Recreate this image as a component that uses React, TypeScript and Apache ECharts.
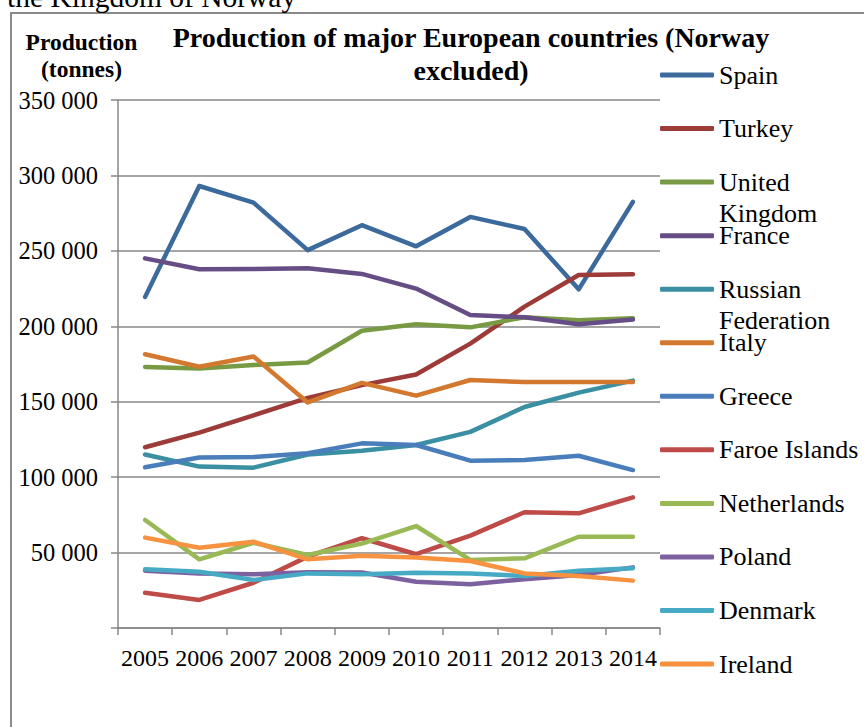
import React, { useEffect, useRef } from "react";
import * as echarts from "echarts";

const years = ["2005", "2006", "2007", "2008", "2009", "2010", "2011", "2012", "2013", "2014"];

const seriesNames = [
  "Spain",
  "Turkey",
  "United Kingdom",
  "France",
  "Russian Federation",
  "Italy",
  "Greece",
  "Faroe Islands",
  "Netherlands",
  "Poland",
  "Denmark",
  "Ireland",
];

const spain = [219500, 293000, 282000, 250500, 267000, 253000, 272500, 264500, 224500, 282500];
const turkey = [119800, 129500, 141000, 152500, 161000, 168000, 188500, 213000, 234000, 234500];
const unitedKingdom = [173000, 172000, 174300, 176000, 197000, 201300, 199300, 206000, 204000, 205300];
const france = [245000, 237800, 238000, 238400, 234700, 225000, 207500, 206000, 201300, 204500];
const russianFederation = [115000, 107000, 106300, 115000, 117500, 121300, 130000, 146500, 156000, 164000];
const italy = [181500, 173200, 180000, 149500, 162500, 154000, 164400, 163000, 163000, 163000];
const greece = [106500, 113000, 113300, 115800, 122400, 121300, 110900, 111400, 114200, 104700];
const faroeIslands = [23400, 18600, 30000, 47300, 59500, 48900, 61200, 76700, 76000, 86600];
const netherlands = [71600, 45500, 56500, 48400, 56000, 67600, 45100, 46200, 60500, 60500];
const poland = [38000, 36200, 35600, 37000, 36800, 30700, 29000, 32300, 35100, 40200];
const denmark = [38900, 37300, 31800, 36200, 35600, 36700, 36200, 34500, 38000, 39600];
const ireland = [59900, 53200, 57200, 45500, 47900, 46800, 44400, 36200, 34500, 31400];

const seriesValues = [
  spain,
  turkey,
  unitedKingdom,
  france,
  russianFederation,
  italy,
  greece,
  faroeIslands,
  netherlands,
  poland,
  denmark,
  ireland,
];

const colors = [
  "#3C6A9D",
  "#9C3B37",
  "#789A42",
  "#664D85",
  "#3A8FA3",
  "#D3782F",
  "#4A7EBB",
  "#BE4B48",
  "#98B954",
  "#7D60A0",
  "#46AAC5",
  "#F69240",
];

// Two-line legend labels: first line in the legend item, second line below it
const legendFirstLine: Record<string, string> = {
  "United Kingdom": "United",
  "Russian Federation": "Russian",
};
const legendSecondLine: Record<string, string> = {
  "United Kingdom": "Kingdom",
  "Russian Federation": "Federation",
};

const FONT = "'Liberation Serif', 'Times New Roman', serif";

export default function App() {
  const ref = useRef<HTMLDivElement>(null);

  useEffect(() => {
    if (!ref.current) return;
    const chart = echarts.init(ref.current, undefined, { renderer: "svg" });

    const legendCenter = (i: number) => 75 + i * 53.55;

    const legends = seriesNames.map((name, i) => ({
      data: [name],
      orient: "vertical",
      left: 660,
      top: legendCenter(i) - 13,
      padding: 0,
      itemWidth: 54,
      itemHeight: 5,
      icon: "roundRect",
      selectedMode: false,
      formatter: (n: string) => legendFirstLine[n] || n,
      textStyle: {
        fontFamily: FONT,
        fontSize: 26,
        color: "#000",
      },
    }));

    const secondLines = seriesNames
      .map((name, i) => ({ name, i }))
      .filter((d) => legendSecondLine[d.name])
      .map((d) => ({
        type: "text",
        x: 719,
        y: legendCenter(d.i) + 31,
        style: {
          text: legendSecondLine[d.name],
          font: `26px ${FONT}`,
          fill: "#000",
          textAlign: "left",
          textVerticalAlign: "middle",
        },
      }));

    const option: any = {
      animation: false,
      backgroundColor: "#fff",
      color: colors,
      grid: { left: 118, right: 204, top: 100, bottom: 99, containLabel: false },
      legend: legends,
      xAxis: {
        type: "category",
        data: years,
        boundaryGap: true,
        axisLine: { show: true, lineStyle: { color: "#878787", width: 1.5 } },
        axisTick: { show: true, length: 7, lineStyle: { color: "#878787", width: 1.5 } },
        axisLabel: {
          margin: 18,
          fontFamily: FONT,
          fontSize: 24,
          color: "#000",
          interval: 0,
        },
        splitLine: { show: false },
      },
      yAxis: {
        type: "value",
        min: 0,
        max: 350000,
        interval: 50000,
        axisLine: { show: true, lineStyle: { color: "#878787", width: 1.5 } },
        axisTick: { show: true, length: 7, lineStyle: { color: "#878787", width: 1.5 } },
        axisLabel: {
          margin: 20,
          fontFamily: FONT,
          fontSize: 24.5,
          color: "#000",
          formatter: (v: number) =>
            v === 0 ? "" : String(v).replace(/\B(?=(\d{3})+(?!\d))/g, " "),
        },
        splitLine: { show: true, lineStyle: { color: "#878787", width: 1.5 } },
      },
      series: seriesNames.map((name, i) => ({
        name,
        type: "line",
        data: seriesValues[i],
        symbol: "none",
        showSymbol: false,
        lineStyle: { width: 4.5, color: colors[i], cap: "round", join: "round" },
        itemStyle: { color: colors[i] },
      })),
      graphic: [
        {
          type: "rect",
          z: -10,
          shape: { x: 11, y: 13, width: 1000, height: 1000 },
          style: { fill: "none", stroke: "#8a8a8a", lineWidth: 2 },
        },
        {
          type: "text",
          x: 7,
          y: -3,
          style: {
            text: "the Kingdom of Norway",
            font: `29.5px ${FONT}`,
            fill: "#000",
            textAlign: "left",
            textVerticalAlign: "middle",
          },
        },
        {
          type: "text",
          x: 471,
          y: 37.5,
          style: {
            text: "Production of major European countries (Norway",
            font: `bold 28px ${FONT}`,
            fill: "#000",
            textAlign: "center",
            textVerticalAlign: "middle",
          },
        },
        {
          type: "text",
          x: 471,
          y: 70.5,
          style: {
            text: "excluded)",
            font: `bold 28px ${FONT}`,
            fill: "#000",
            textAlign: "center",
            textVerticalAlign: "middle",
          },
        },
        {
          type: "text",
          x: 81.5,
          y: 42,
          style: {
            text: "Production",
            font: `bold 23.5px ${FONT}`,
            fill: "#000",
            textAlign: "center",
            textVerticalAlign: "middle",
          },
        },
        {
          type: "text",
          x: 81.5,
          y: 69,
          style: {
            text: "(tonnes)",
            font: `bold 23.5px ${FONT}`,
            fill: "#000",
            textAlign: "center",
            textVerticalAlign: "middle",
          },
        },
        ...secondLines,
      ],
    };

    chart.setOption(option);
    return () => chart.dispose();
  }, []);

  return (
    <div
      ref={ref}
      style={{ position: "fixed", left: 0, top: 0, width: 864, height: 727 }}
    />
  );
}
